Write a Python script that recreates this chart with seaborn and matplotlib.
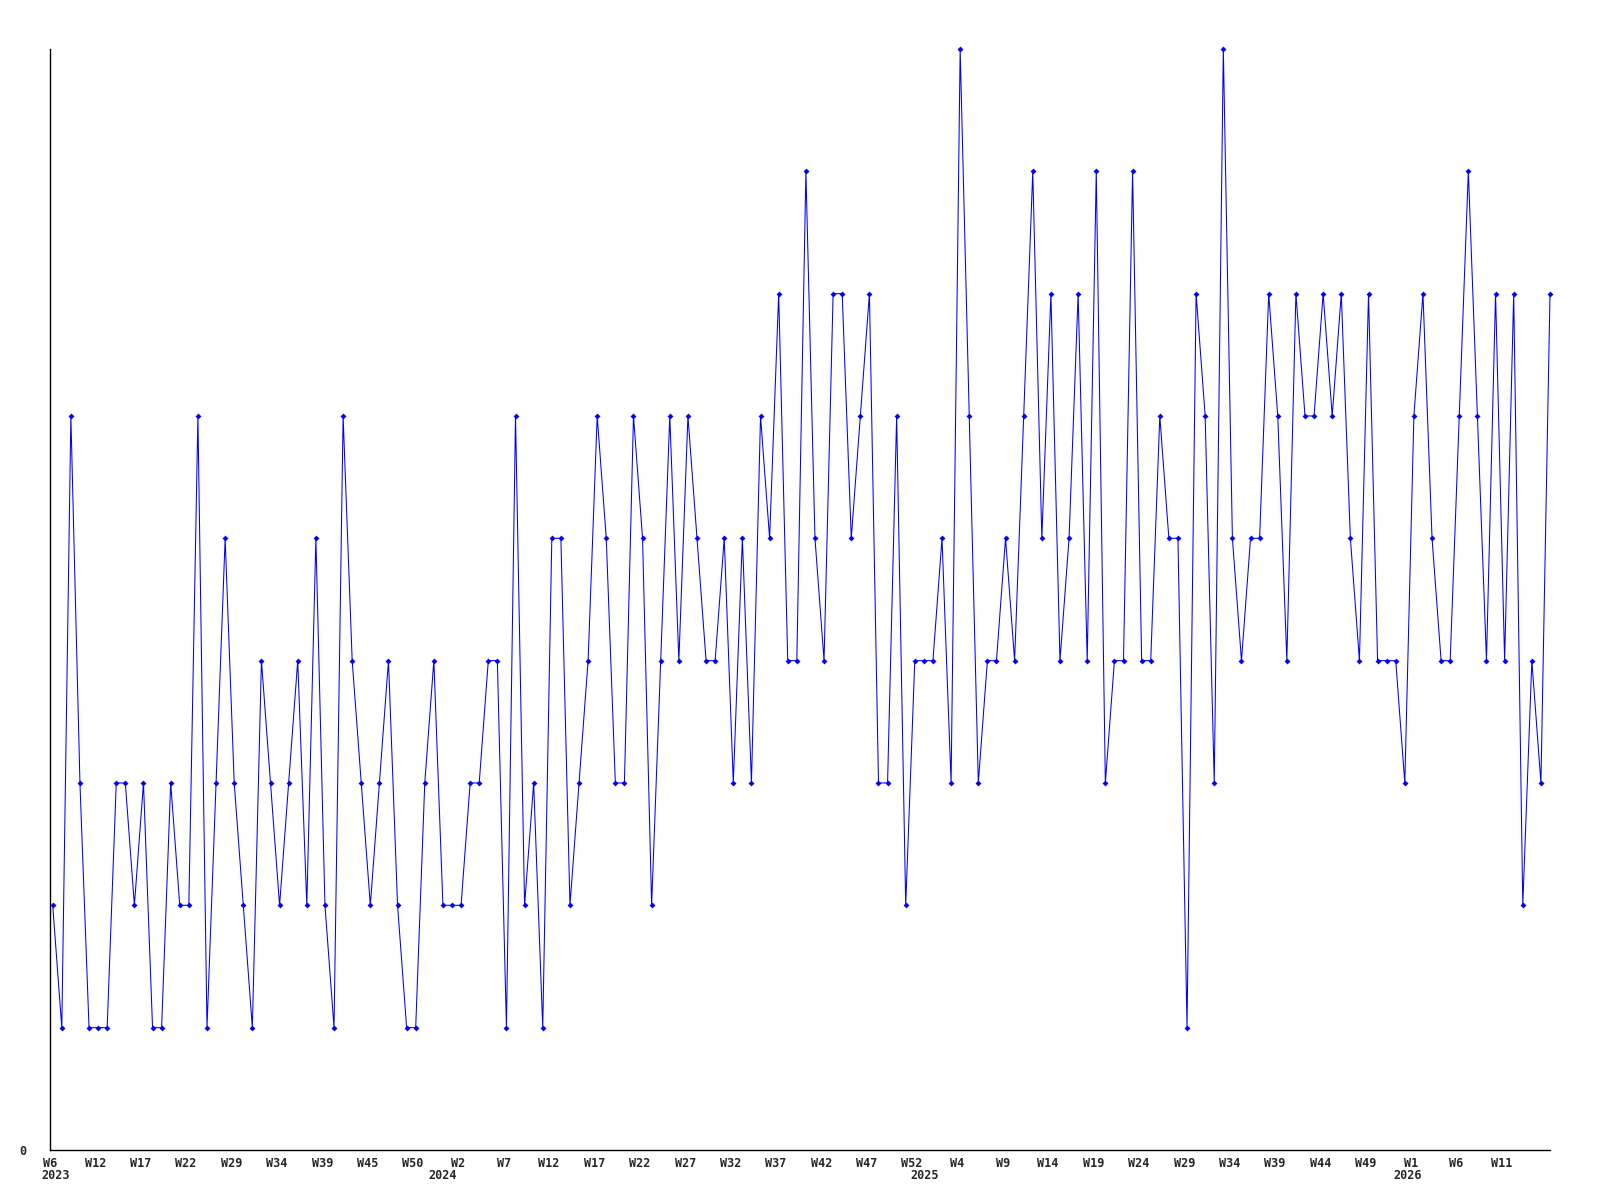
import matplotlib
matplotlib.use("Agg")
import matplotlib.pyplot as plt
import matplotlib.transforms as mtransforms
import seaborn as sns
import pandas as pd

# weekly values
values_2023a = [2, 1, 6, 3, 1, 1, 1, 3, 3, 2, 3, 1, 1, 3, 2, 2, 6, 1, 3, 5, 3, 2]
values_2023b = [1, 4, 3, 2, 3, 4, 2, 5, 2, 1, 6, 4, 3, 2, 3, 4, 2, 1, 1, 3]
values_2024a = [4, 2, 2, 2, 3, 3, 4, 4, 1, 6, 2, 3, 1, 5, 5, 2, 3, 4, 6, 5, 3]
values_2024b = [3, 6, 5, 2, 4, 6, 4, 6, 5, 4, 4, 5, 3, 5, 3, 6, 5, 7, 4, 4, 8]
values_2024c = [5, 4, 7, 7, 5, 6, 7, 3, 3, 6, 2, 4, 4, 4, 5, 3, 9, 6, 3, 4, 4]
values_2025a = [5, 4, 6, 8, 5, 7, 4, 5, 7, 4, 8, 3, 4, 4, 8, 4, 4, 6, 5, 5, 1]
values_2025b = [7, 6, 3, 9, 5, 4, 5, 5, 7, 6, 4, 7, 6, 6, 7, 6, 7, 5, 4, 7, 4]
values_2026 = [4, 4, 3, 6, 7, 5, 4, 4, 6, 8, 6, 4, 7, 4, 7, 2, 4, 3, 7]

week_labels = ["W6", "W12", "W17", "W22", "W29", "W34", "W39", "W45", "W50",
               "W2", "W7", "W12", "W17", "W22", "W27", "W32", "W37", "W42",
               "W47", "W52", "W4", "W9", "W14", "W19", "W24", "W29", "W34",
               "W39", "W44", "W49", "W1", "W6", "W11"]
years = ["2023", "2024", "2025", "2026"]
year_pos = [0.3, 43.0, 96.1, 149.3]

values = (values_2023a + values_2023b + values_2024a + values_2024b
          + values_2024c + values_2025a + values_2025b + values_2026)
df = pd.DataFrame({"idx": range(len(values)), "value": values})

sns.set_style("white")
plt.rcParams["font.family"] = ["DejaVu Sans Mono", "DejaVu Sans"]

fig = plt.figure(figsize=(16, 12), dpi=100)
ax = fig.add_axes([0.03125, 0.0417, 0.9375, 0.9175])

sns.lineplot(data=df, x="idx", y="value", ax=ax, color="#0000ff",
             linewidth=0.75, marker="D", markersize=3, markeredgewidth=0,
             clip_on=False)

ax.set_xlim(0, len(values) - 1)
ax.set_ylim(0, 9)
for s in ["top", "right"]:
    ax.spines[s].set_visible(False)
for s in ["left", "bottom"]:
    ax.spines[s].set_color("black")
    ax.spines[s].set_linewidth(1)

ax.set_xticks([i - 0.3 for i in range(0, 5 * len(week_labels), 5)])
ax.set_xticklabels(week_labels, fontsize=8.5, fontweight="bold")
ax.set_yticks([0])
ax.set_yticklabels(["0"], fontsize=8.5, fontweight="bold")
ax.tick_params(axis="x", length=0, pad=5)
ax.tick_params(axis="y", length=0, pad=17)
ax.set_xlabel("")
ax.set_ylabel("")

trans = mtransforms.blended_transform_factory(ax.transData, ax.transAxes)
for pos, yr in zip(year_pos, years):
    ax.text(pos, -0.0235, yr, transform=trans, ha="center", va="center",
            fontsize=8.5, fontweight="bold")

fig.savefig("out.png", dpi=100)
